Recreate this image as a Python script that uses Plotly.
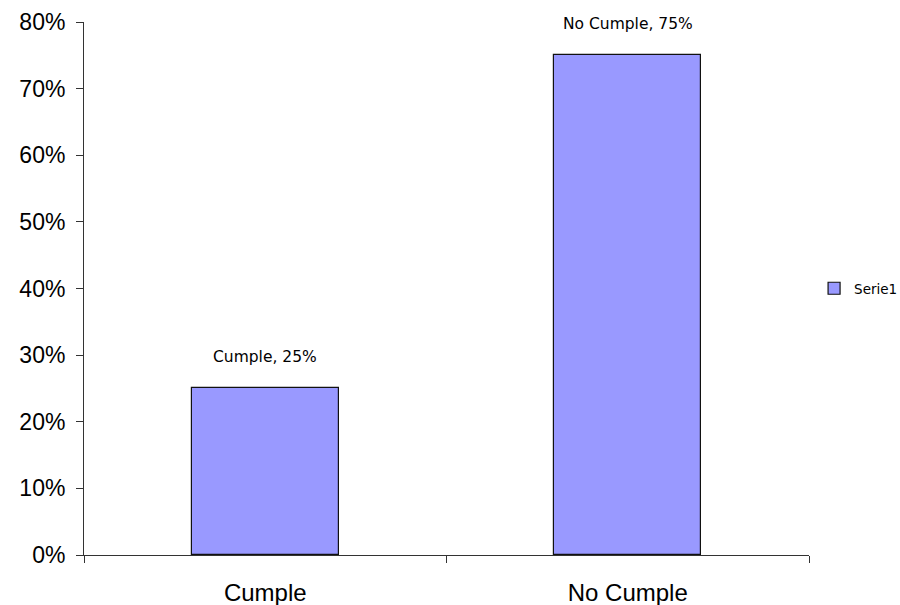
import plotly.graph_objects as go

categories = ["Cumple", "No Cumple"]
values = [0.25, 0.75]
series_name = "Serie1"
y_ticks = [0, 0.1, 0.2, 0.3, 0.4, 0.5, 0.6, 0.7, 0.8]
y_tick_labels = ["0%", "10%", "20%", "30%", "40%", "50%", "60%", "70%", "80%"]

fig = go.Figure()
fig.add_trace(go.Bar(
    x=categories,
    y=values,
    name=series_name,
    width=0.405,
    marker=dict(color="#9999FF", line=dict(color="#111111", width=1.2)),
    showlegend=True,
))

# value labels above each bar: "category, value%"
for c, v in zip(categories, values):
    fig.add_annotation(
        x=c, y=v, xref="x", yref="y",
        text=f"{c}, {round(v * 100)}%",
        showarrow=False, yanchor="bottom", yshift=20,
        font=dict(family="DejaVu Sans", size=15.5, color="#000000"),
    )

fig.update_layout(
    width=900, height=605,
    margin=dict(l=84, r=91, t=22, b=50, autoexpand=False),
    paper_bgcolor="white", plot_bgcolor="white",
    bargap=0,
    legend=dict(
        x=1.007, y=0.5, xanchor="left", yanchor="middle",
        font=dict(family="DejaVu Sans", size=13.5, color="#000000"),
        itemwidth=30,
    ),
)
fig.update_xaxes(
    type="category", range=[-0.5, 1.5],
    showline=True, linecolor="#333333", linewidth=1,
    ticks="outside", tickson="boundaries", ticklen=7, tickcolor="#333333",
    showgrid=False, zeroline=False,
    tickfont=dict(family="Liberation Sans", size=24, color="#000000"),
    ticklabelstandoff=16,
)
fig.update_yaxes(
    range=[0, 0.8], tickvals=y_ticks, ticktext=y_tick_labels,
    showline=True, linecolor="#333333", linewidth=1,
    ticks="outside", ticklen=7, tickcolor="#333333",
    showgrid=False, zeroline=False,
    tickfont=dict(family="Liberation Sans", size=23, color="#000000"),
    ticklabelstandoff=6,
)

fig.write_html("out.html")
